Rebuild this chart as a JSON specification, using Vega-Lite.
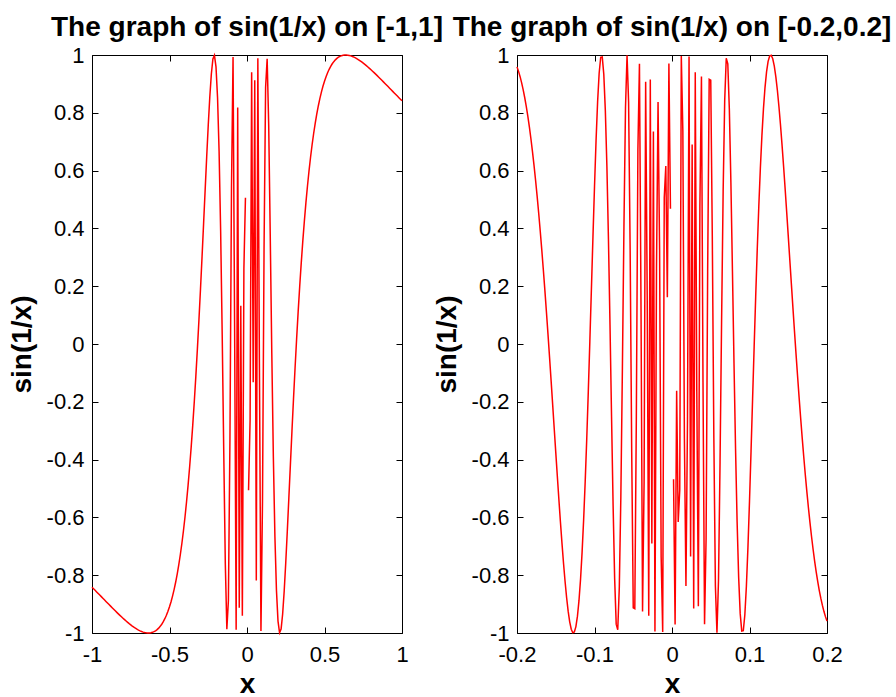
{
"$schema": "https://vega.github.io/schema/vega-lite/v6.json",
"padding": {"left": 8, "top": 14, "right": 2, "bottom": 2},
"background": "white",
"bounds": "flush",
"spacing": 115,
"config": {
 "font": "Liberation Sans",
 "view": {"stroke": null},
 "axis": {"grid": false, "domainColor": "#000", "tickColor": "#000", "labelColor": "#000", "titleColor": "#000", "labelFont": "Liberation Sans", "titleFont": "Liberation Sans", "labelFontSize": 22, "titleFontSize": 28, "titleFontWeight": "bold", "tickSize": -6, "domainWidth": 1, "tickWidth": 1, "labelOverlap": false, "labelFlush": false, "labelBound": false}
},
"datasets": {
 "left": [
  {"x":-1,"y":-0.8415},{"x":-0.99,"y":-0.8469},{"x":-0.98,"y":-0.8523},{"x":-0.97,"y":-0.8578},{"x":-0.96,"y":-0.8632},{"x":-0.95,"y":-0.8687},{"x":-0.94,"y":-0.8742},{"x":-0.93,"y":-0.8797},{"x":-0.92,"y":-0.8852},{"x":-0.91,"y":-0.8907},
  {"x":-0.9,"y":-0.8962},{"x":-0.89,"y":-0.9017},{"x":-0.88,"y":-0.9071},{"x":-0.87,"y":-0.9125},{"x":-0.86,"y":-0.9179},{"x":-0.85,"y":-0.9233},{"x":-0.84,"y":-0.9286},{"x":-0.83,"y":-0.9338},{"x":-0.82,"y":-0.9389},{"x":-0.81,"y":-0.944},
  {"x":-0.8,"y":-0.949},{"x":-0.79,"y":-0.9539},{"x":-0.78,"y":-0.9586},{"x":-0.77,"y":-0.9632},{"x":-0.76,"y":-0.9677},{"x":-0.75,"y":-0.9719},{"x":-0.74,"y":-0.976},{"x":-0.73,"y":-0.9799},{"x":-0.72,"y":-0.9835},{"x":-0.71,"y":-0.9869},
  {"x":-0.7,"y":-0.9899},{"x":-0.69,"y":-0.9926},{"x":-0.68,"y":-0.995},{"x":-0.67,"y":-0.9969},{"x":-0.66,"y":-0.9985},{"x":-0.65,"y":-0.9995},{"x":-0.64,"y":-1},{"x":-0.63,"y":-0.9999},{"x":-0.62,"y":-0.9991},{"x":-0.61,"y":-0.9977},
  {"x":-0.6,"y":-0.9954},{"x":-0.59,"y":-0.9923},{"x":-0.58,"y":-0.9883},{"x":-0.57,"y":-0.9832},{"x":-0.56,"y":-0.977},{"x":-0.55,"y":-0.9696},{"x":-0.54,"y":-0.9608},{"x":-0.53,"y":-0.9505},{"x":-0.52,"y":-0.9386},{"x":-0.51,"y":-0.9249},
  {"x":-0.5,"y":-0.9093},{"x":-0.49,"y":-0.8916},{"x":-0.48,"y":-0.8715},{"x":-0.47,"y":-0.8489},{"x":-0.46,"y":-0.8236},{"x":-0.45,"y":-0.7952},{"x":-0.44,"y":-0.7636},{"x":-0.43,"y":-0.7284},{"x":-0.42,"y":-0.6894},{"x":-0.41,"y":-0.6462},
  {"x":-0.4,"y":-0.5985},{"x":-0.39,"y":-0.5459},{"x":-0.38,"y":-0.4882},{"x":-0.37,"y":-0.4249},{"x":-0.36,"y":-0.3558},{"x":-0.35,"y":-0.2806},{"x":-0.34,"y":-0.1991},{"x":-0.33,"y":-0.1111},{"x":-0.32,"y":-0.0166},{"x":-0.31,"y":0.0841},
  {"x":-0.3,"y":0.1906},{"x":-0.29,"y":0.3019},{"x":-0.28,"y":0.4167},{"x":-0.27,"y":0.533},{"x":-0.26,"y":0.6477},{"x":-0.25,"y":0.7568},{"x":-0.24,"y":0.8548},{"x":-0.23,"y":0.9343},{"x":-0.22,"y":0.9861},{"x":-0.21,"y":0.9988},
  {"x":-0.2,"y":0.9589},{"x":-0.19,"y":0.8521},{"x":-0.18,"y":0.6651},{"x":-0.17,"y":0.3902},{"x":-0.16,"y":0.0332},{"x":-0.15,"y":-0.3742},{"x":-0.14,"y":-0.7576},{"x":-0.13,"y":-0.987},{"x":-0.12,"y":-0.8873},{"x":-0.11,"y":-0.3277},
  {"x":-0.1,"y":0.544},{"x":-0.09,"y":0.9933},{"x":-0.08,"y":0.0663},{"x":-0.07,"y":-0.989},{"x":-0.06,"y":0.8184},{"x":-0.05,"y":-0.9129},{"x":-0.04,"y":0.1324},{"x":-0.03,"y":-0.9405},{"x":-0.02,"y":0.2624},{"x":-0.01,"y":0.5064},
  {"x":0,"y":null},
  {"x":0.01,"y":-0.5064},{"x":0.02,"y":-0.2624},{"x":0.03,"y":0.9405},{"x":0.04,"y":-0.1324},{"x":0.05,"y":0.9129},{"x":0.06,"y":-0.8184},{"x":0.07,"y":0.989},{"x":0.08,"y":-0.0663},{"x":0.09,"y":-0.9933},{"x":0.1,"y":-0.544},
  {"x":0.11,"y":0.3277},{"x":0.12,"y":0.8873},{"x":0.13,"y":0.987},{"x":0.14,"y":0.7576},{"x":0.15,"y":0.3742},{"x":0.16,"y":-0.0332},{"x":0.17,"y":-0.3902},{"x":0.18,"y":-0.6651},{"x":0.19,"y":-0.8521},{"x":0.2,"y":-0.9589},
  {"x":0.21,"y":-0.9988},{"x":0.22,"y":-0.9861},{"x":0.23,"y":-0.9343},{"x":0.24,"y":-0.8548},{"x":0.25,"y":-0.7568},{"x":0.26,"y":-0.6477},{"x":0.27,"y":-0.533},{"x":0.28,"y":-0.4167},{"x":0.29,"y":-0.3019},{"x":0.3,"y":-0.1906},
  {"x":0.31,"y":-0.0841},{"x":0.32,"y":0.0166},{"x":0.33,"y":0.1111},{"x":0.34,"y":0.1991},{"x":0.35,"y":0.2806},{"x":0.36,"y":0.3558},{"x":0.37,"y":0.4249},{"x":0.38,"y":0.4882},{"x":0.39,"y":0.5459},{"x":0.4,"y":0.5985},
  {"x":0.41,"y":0.6462},{"x":0.42,"y":0.6894},{"x":0.43,"y":0.7284},{"x":0.44,"y":0.7636},{"x":0.45,"y":0.7952},{"x":0.46,"y":0.8236},{"x":0.47,"y":0.8489},{"x":0.48,"y":0.8715},{"x":0.49,"y":0.8916},{"x":0.5,"y":0.9093},
  {"x":0.51,"y":0.9249},{"x":0.52,"y":0.9386},{"x":0.53,"y":0.9505},{"x":0.54,"y":0.9608},{"x":0.55,"y":0.9696},{"x":0.56,"y":0.977},{"x":0.57,"y":0.9832},{"x":0.58,"y":0.9883},{"x":0.59,"y":0.9923},{"x":0.6,"y":0.9954},
  {"x":0.61,"y":0.9977},{"x":0.62,"y":0.9991},{"x":0.63,"y":0.9999},{"x":0.64,"y":1},{"x":0.65,"y":0.9995},{"x":0.66,"y":0.9985},{"x":0.67,"y":0.9969},{"x":0.68,"y":0.995},{"x":0.69,"y":0.9926},{"x":0.7,"y":0.9899},
  {"x":0.71,"y":0.9869},{"x":0.72,"y":0.9835},{"x":0.73,"y":0.9799},{"x":0.74,"y":0.976},{"x":0.75,"y":0.9719},{"x":0.76,"y":0.9677},{"x":0.77,"y":0.9632},{"x":0.78,"y":0.9586},{"x":0.79,"y":0.9539},{"x":0.8,"y":0.949},
  {"x":0.81,"y":0.944},{"x":0.82,"y":0.9389},{"x":0.83,"y":0.9338},{"x":0.84,"y":0.9286},{"x":0.85,"y":0.9233},{"x":0.86,"y":0.9179},{"x":0.87,"y":0.9125},{"x":0.88,"y":0.9071},{"x":0.89,"y":0.9017},{"x":0.9,"y":0.8962},
  {"x":0.91,"y":0.8907},{"x":0.92,"y":0.8852},{"x":0.93,"y":0.8797},{"x":0.94,"y":0.8742},{"x":0.95,"y":0.8687},{"x":0.96,"y":0.8632},{"x":0.97,"y":0.8578},{"x":0.98,"y":0.8523},{"x":0.99,"y":0.8469},{"x":1,"y":0.8415}
 ],
 "right": [
  {"x":-0.2,"y":0.9589},{"x":-0.198,"y":0.9434},{"x":-0.196,"y":0.925},{"x":-0.194,"y":0.9038},{"x":-0.192,"y":0.8795},{"x":-0.19,"y":0.8521},{"x":-0.188,"y":0.8215},{"x":-0.186,"y":0.7876},{"x":-0.184,"y":0.7502},{"x":-0.182,"y":0.7094},
  {"x":-0.18,"y":0.6651},{"x":-0.178,"y":0.6172},{"x":-0.176,"y":0.5658},{"x":-0.174,"y":0.5108},{"x":-0.172,"y":0.4523},{"x":-0.17,"y":0.3902},{"x":-0.168,"y":0.3248},{"x":-0.166,"y":0.2562},{"x":-0.164,"y":0.1846},{"x":-0.162,"y":0.1101},
  {"x":-0.16,"y":0.0332},{"x":-0.158,"y":-0.0459},{"x":-0.156,"y":-0.1267},{"x":-0.154,"y":-0.2088},{"x":-0.152,"y":-0.2915},{"x":-0.15,"y":-0.3742},{"x":-0.148,"y":-0.4561},{"x":-0.146,"y":-0.5364},{"x":-0.144,"y":-0.6141},{"x":-0.142,"y":-0.6882},
  {"x":-0.14,"y":-0.7576},{"x":-0.138,"y":-0.821},{"x":-0.136,"y":-0.8771},{"x":-0.134,"y":-0.9244},{"x":-0.132,"y":-0.9615},{"x":-0.13,"y":-0.987},{"x":-0.128,"y":-0.9991},{"x":-0.126,"y":-0.9966},{"x":-0.124,"y":-0.9779},{"x":-0.122,"y":-0.9418},
  {"x":-0.12,"y":-0.8873},{"x":-0.118,"y":-0.8135},{"x":-0.116,"y":-0.7202},{"x":-0.114,"y":-0.6075},{"x":-0.112,"y":-0.4761},{"x":-0.11,"y":-0.3277},{"x":-0.108,"y":-0.1648},{"x":-0.106,"y":0.0092},{"x":-0.104,"y":0.1895},{"x":-0.102,"y":0.3701},
  {"x":-0.1,"y":0.544},{"x":-0.098,"y":0.7028},{"x":-0.096,"y":0.8371},{"x":-0.094,"y":0.9369},{"x":-0.092,"y":0.9921},{"x":-0.09,"y":0.9933},{"x":-0.088,"y":0.933},{"x":-0.086,"y":0.8067},{"x":-0.084,"y":0.6144},{"x":-0.082,"y":0.3628},
  {"x":-0.08,"y":0.0663},{"x":-0.078,"y":-0.2514},{"x":-0.076,"y":-0.5576},{"x":-0.074,"y":-0.8118},{"x":-0.072,"y":-0.9693},{"x":-0.07,"y":-0.989},{"x":-0.068,"y":-0.8426},{"x":-0.066,"y":-0.5282},{"x":-0.064,"y":-0.0829},{"x":-0.062,"y":0.4087},
  {"x":-0.06,"y":0.8184},{"x":-0.058,"y":0.9993},{"x":-0.056,"y":0.8374},{"x":-0.054,"y":0.325},{"x":-0.052,"y":-0.372},{"x":-0.05,"y":-0.9129},{"x":-0.048,"y":-0.9159},{"x":-0.046,"y":-0.2494},{"x":-0.044,"y":0.6714},{"x":-0.042,"y":0.9695},
  {"x":-0.04,"y":0.1324},{"x":-0.038,"y":-0.9258},{"x":-0.036,"y":-0.4764},{"x":-0.034,"y":0.9076},{"x":-0.032,"y":0.1652},{"x":-0.03,"y":-0.9405},{"x":-0.028,"y":0.9155},{"x":-0.026,"y":-0.6907},{"x":-0.024,"y":0.7352},{"x":-0.022,"y":-0.9952},
  {"x":-0.02,"y":0.2624},{"x":-0.018,"y":0.8377},{"x":-0.016,"y":0.3258},{"x":-0.014,"y":-0.7366},{"x":-0.012,"y":-0.9967},{"x":-0.01,"y":0.5064},{"x":-0.008,"y":0.616},{"x":-0.006,"y":0.1616},{"x":-0.004,"y":0.9705},{"x":-0.002,"y":0.4678},
  {"x":0,"y":null},
  {"x":0.002,"y":-0.4678},{"x":0.004,"y":-0.9705},{"x":0.006,"y":-0.1616},{"x":0.008,"y":-0.616},{"x":0.01,"y":-0.5064},{"x":0.012,"y":0.9967},{"x":0.014,"y":0.7366},{"x":0.016,"y":-0.3258},{"x":0.018,"y":-0.8377},{"x":0.02,"y":-0.2624},
  {"x":0.022,"y":0.9952},{"x":0.024,"y":-0.7352},{"x":0.026,"y":0.6907},{"x":0.028,"y":-0.9155},{"x":0.03,"y":0.9405},{"x":0.032,"y":-0.1652},{"x":0.034,"y":-0.9076},{"x":0.036,"y":0.4764},{"x":0.038,"y":0.9258},{"x":0.04,"y":-0.1324},
  {"x":0.042,"y":-0.9695},{"x":0.044,"y":-0.6714},{"x":0.046,"y":0.2494},{"x":0.048,"y":0.9159},{"x":0.05,"y":0.9129},{"x":0.052,"y":0.372},{"x":0.054,"y":-0.325},{"x":0.056,"y":-0.8374},{"x":0.058,"y":-0.9993},{"x":0.06,"y":-0.8184},
  {"x":0.062,"y":-0.4087},{"x":0.064,"y":0.0829},{"x":0.066,"y":0.5282},{"x":0.068,"y":0.8426},{"x":0.07,"y":0.989},{"x":0.072,"y":0.9693},{"x":0.074,"y":0.8118},{"x":0.076,"y":0.5576},{"x":0.078,"y":0.2514},{"x":0.08,"y":-0.0663},
  {"x":0.082,"y":-0.3628},{"x":0.084,"y":-0.6144},{"x":0.086,"y":-0.8067},{"x":0.088,"y":-0.933},{"x":0.09,"y":-0.9933},{"x":0.092,"y":-0.9921},{"x":0.094,"y":-0.9369},{"x":0.096,"y":-0.8371},{"x":0.098,"y":-0.7028},{"x":0.1,"y":-0.544},
  {"x":0.102,"y":-0.3701},{"x":0.104,"y":-0.1895},{"x":0.106,"y":-0.0092},{"x":0.108,"y":0.1648},{"x":0.11,"y":0.3277},{"x":0.112,"y":0.4761},{"x":0.114,"y":0.6075},{"x":0.116,"y":0.7202},{"x":0.118,"y":0.8135},{"x":0.12,"y":0.8873},
  {"x":0.122,"y":0.9418},{"x":0.124,"y":0.9779},{"x":0.126,"y":0.9966},{"x":0.128,"y":0.9991},{"x":0.13,"y":0.987},{"x":0.132,"y":0.9615},{"x":0.134,"y":0.9244},{"x":0.136,"y":0.8771},{"x":0.138,"y":0.821},{"x":0.14,"y":0.7576},
  {"x":0.142,"y":0.6882},{"x":0.144,"y":0.6141},{"x":0.146,"y":0.5364},{"x":0.148,"y":0.4561},{"x":0.15,"y":0.3742},{"x":0.152,"y":0.2915},{"x":0.154,"y":0.2088},{"x":0.156,"y":0.1267},{"x":0.158,"y":0.0459},{"x":0.16,"y":-0.0332},
  {"x":0.162,"y":-0.1101},{"x":0.164,"y":-0.1846},{"x":0.166,"y":-0.2562},{"x":0.168,"y":-0.3248},{"x":0.17,"y":-0.3902},{"x":0.172,"y":-0.4523},{"x":0.174,"y":-0.5108},{"x":0.176,"y":-0.5658},{"x":0.178,"y":-0.6172},{"x":0.18,"y":-0.6651},
  {"x":0.182,"y":-0.7094},{"x":0.184,"y":-0.7502},{"x":0.186,"y":-0.7876},{"x":0.188,"y":-0.8215},{"x":0.19,"y":-0.8521},{"x":0.192,"y":-0.8795},{"x":0.194,"y":-0.9038},{"x":0.196,"y":-0.925},{"x":0.198,"y":-0.9434},{"x":0.2,"y":-0.9589}
 ]
},
"hconcat": [
 {
  "width": 310, "height": 578,
  "title": {"text": "The graph of sin(1/x) on [-1,1]", "anchor": "middle", "frame": "group", "offset": -20, "baseline": "alphabetic", "font": "Liberation Sans", "fontSize": 28, "fontWeight": "bold", "color": "#000"},
  "data": {"name": "left"},
  "layer": [
   {
    "mark": {"type": "line", "color": "#ff0000", "strokeWidth": 1.5, "invalid": "break-paths-show-domains"},
    "encoding": {
     "x": {"field": "x", "type": "quantitative", "scale": {"domain": [-1, 1], "nice": false, "zero": false},
       "axis": {"orient": "bottom", "values": [-1, -0.5, 0, 0.5, 1], "format": "~g", "labelExpr": "replace(datum.label, '−', '-')", "labelPadding": 17, "title": "x", "titleX": 155, "titleY": 59, "titleAngle": 0, "titleBaseline": "alphabetic", "titleAlign": "center"}},
     "y": {"field": "y", "type": "quantitative", "scale": {"domain": [-1, 1], "nice": false, "zero": false},
       "axis": {"orient": "left", "values": [-1, -0.8, -0.6, -0.4, -0.2, 0, 0.2, 0.4, 0.6, 0.8, 1], "format": "~g", "labelExpr": "replace(datum.label, '−', '-')", "labelPadding": 14, "title": "sin(1/x)", "titleX": -62, "titleY": 289, "titleAngle": 270, "titleBaseline": "alphabetic", "titleAlign": "center"}}
    }
   },
   {
    "mark": {"type": "line", "strokeOpacity": 0, "invalid": "break-paths-show-domains"},
    "encoding": {
     "x": {"field": "x", "type": "quantitative", "axis": {"orient": "top", "values": [-1, -0.5, 0, 0.5, 1], "labels": false, "title": null}},
     "y": {"field": "y", "type": "quantitative", "axis": {"orient": "right", "values": [-1, -0.8, -0.6, -0.4, -0.2, 0, 0.2, 0.4, 0.6, 0.8, 1], "labels": false, "title": null}}
    }
   }
  ],
  "resolve": {"axis": {"x": "independent", "y": "independent"}}
 },
 {
  "width": 310, "height": 578,
  "title": {"text": "The graph of sin(1/x) on [-0.2,0.2]", "anchor": "middle", "frame": "group", "offset": -20, "baseline": "alphabetic", "font": "Liberation Sans", "fontSize": 28, "fontWeight": "bold", "color": "#000"},
  "data": {"name": "right"},
  "layer": [
   {
    "mark": {"type": "line", "color": "#ff0000", "strokeWidth": 1.5, "invalid": "break-paths-show-domains"},
    "encoding": {
     "x": {"field": "x", "type": "quantitative", "scale": {"domain": [-0.2, 0.2], "nice": false, "zero": false},
       "axis": {"orient": "bottom", "values": [-0.2, -0.1, 0, 0.1, 0.2], "format": "~g", "labelExpr": "replace(datum.label, '−', '-')", "labelPadding": 17, "title": "x", "titleX": 155, "titleY": 59, "titleAngle": 0, "titleBaseline": "alphabetic", "titleAlign": "center"}},
     "y": {"field": "y", "type": "quantitative", "scale": {"domain": [-1, 1], "nice": false, "zero": false},
       "axis": {"orient": "left", "values": [-1, -0.8, -0.6, -0.4, -0.2, 0, 0.2, 0.4, 0.6, 0.8, 1], "format": "~g", "labelExpr": "replace(datum.label, '−', '-')", "labelPadding": 14, "title": "sin(1/x)", "titleX": -62, "titleY": 289, "titleAngle": 270, "titleBaseline": "alphabetic", "titleAlign": "center"}}
    }
   },
   {
    "mark": {"type": "line", "strokeOpacity": 0, "invalid": "break-paths-show-domains"},
    "encoding": {
     "x": {"field": "x", "type": "quantitative", "axis": {"orient": "top", "values": [-0.2, -0.1, 0, 0.1, 0.2], "labels": false, "title": null}},
     "y": {"field": "y", "type": "quantitative", "axis": {"orient": "right", "values": [-1, -0.8, -0.6, -0.4, -0.2, 0, 0.2, 0.4, 0.6, 0.8, 1], "labels": false, "title": null}}
    }
   }
  ],
  "resolve": {"axis": {"x": "independent", "y": "independent"}}
 }
]
}
